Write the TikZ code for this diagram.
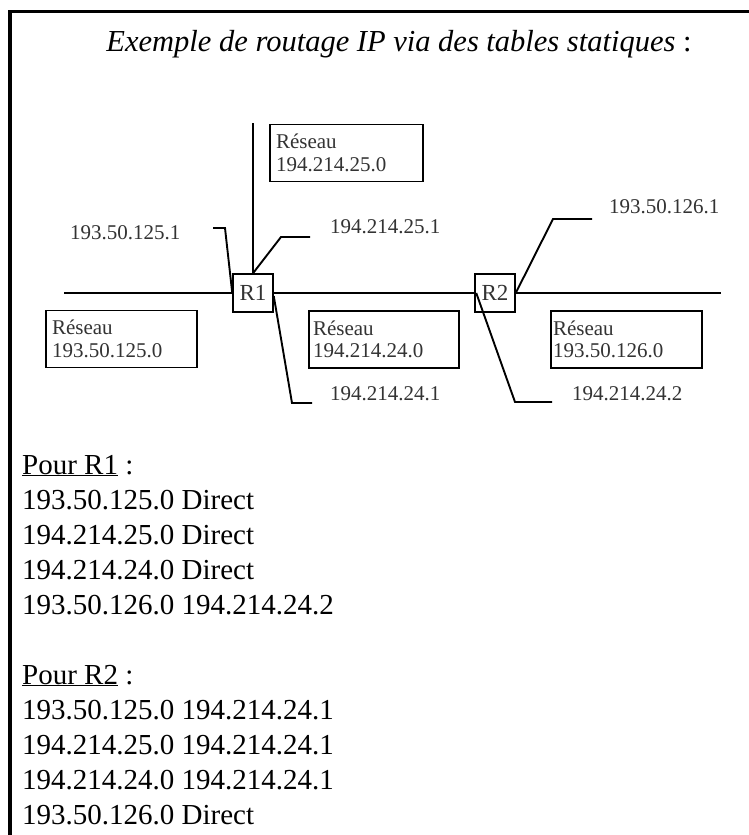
\documentclass[tikz,border=0pt]{standalone}
\usepackage{fontspec}
\setmainfont{Liberation Serif}
\usetikzlibrary{calc}
\begin{document}
\begin{tikzpicture}[x=1pt,y=-1pt,
  wire/.style={line width=1.6pt,black},
  leader/.style={line width=1.9pt,black},
  router/.style={draw,line width=1.5pt,minimum width=40pt,minimum height=38pt,inner sep=0pt,
    text=black!80,font=\fontsize{23}{24}\selectfont},
  netbox/.style={draw,line width=1.5pt,minimum height=57pt,inner ysep=0pt,align=left,
    text=black!80,font=\fontsize{21}{22.5}\selectfont},
  addr/.style={anchor=west,inner sep=0pt,text=black!80,font=\fontsize{21}{22}\selectfont},
  body/.style={anchor=base west,inner sep=0pt,font=\fontsize{29}{35}\selectfont}]
\useasboundingbox (0,0) rectangle (749,835);
\fill[white] (0,0) rectangle (749,835);

% frame: top and left rules
\draw[line width=3.8pt] (10,835) -- (10,11.5) -- (749,11.5);

% title
\node[anchor=base,inner sep=0pt,font=\fontsize{30.5}{36}\selectfont\itshape] (title) at (399,51)
  {Exemple de routage IP via des tables statiques \upshape:};

% routers
\node[router] (R1) at (253,293) {R1};
\node[router] (R2) at (495,293) {R2};

% network segments
\coordinate (wL) at (64,293);
\coordinate (wR) at (721,293);
\coordinate (wT) at (253,123);
\draw[wire] (wL) -- (R1.west);
\draw[wire] (R1.east) -- (R2.west);
\draw[wire] (R2.east) -- (wR);
\draw[wire] (R1.north) -- (wT);

% network boxes
\node[netbox,text width=141pt,inner xsep=6pt] (n25) at (346.5,153) {Réseau\\194.214.25.0};
\node[netbox,text width=139pt,inner xsep=6pt] (n125) at (121.5,339) {Réseau\\193.50.125.0};
\node[netbox,text width=142pt,inner xsep=4pt] (n24) at (384,339.5) {Réseau\\194.214.24.0};
\node[netbox,text width=147pt,inner xsep=2pt] (n126) at (626.5,339.5) {Réseau\\193.50.126.0};

% interface addresses
\node[addr] (a1) at (70,233) {193.50.125.1};
\node[addr] (a2) at (330,227) {194.214.25.1};
\node[addr] (a3) at (609,207) {193.50.126.1};
\node[addr] (a4) at (330,394) {194.214.24.1};
\node[addr] (a5) at (572,394) {194.214.24.2};

% leader lines from the addresses to the router ports
\coordinate (k1) at (213,228);
\coordinate (k2) at (310,237);
\coordinate (k3) at (592,219);
\coordinate (k4) at (312,403);
\coordinate (k5) at (552,402);
\draw[leader] (k1) -- ++(12,0) -- (R1.west);
\draw[leader] (k2) -- ++(-29,0) -- (R1.north);
\draw[leader] (k3) -- ++(-39,0) -- (R2.east);
\draw[leader] (k4) -- ++(-20,0) -- ($(R1.east)+(0,3)$);
\draw[leader] (k5) -- ++(-37,0) -- ($(R2.west)+(2,0)$);

% routing tables
\node[body] (p1) at (22,474) {\underline{Pour R1} :};
\node[body] (r11) at (22,509) {193.50.125.0 Direct};
\node[body] (r12) at (22,544) {194.214.25.0 Direct};
\node[body] (r13) at (22,579) {194.214.24.0 Direct};
\node[body] (r14) at (22,614) {193.50.126.0 194.214.24.2};
\node[body] (p2) at (22,684) {\underline{Pour R2} :};
\node[body] (r21) at (22,719) {193.50.125.0 194.214.24.1};
\node[body] (r22) at (22,754) {194.214.25.0 194.214.24.1};
\node[body] (r23) at (22,789) {194.214.24.0 194.214.24.1};
\node[body] (r24) at (22,824) {193.50.126.0 Direct};
\end{tikzpicture}
\end{document}
